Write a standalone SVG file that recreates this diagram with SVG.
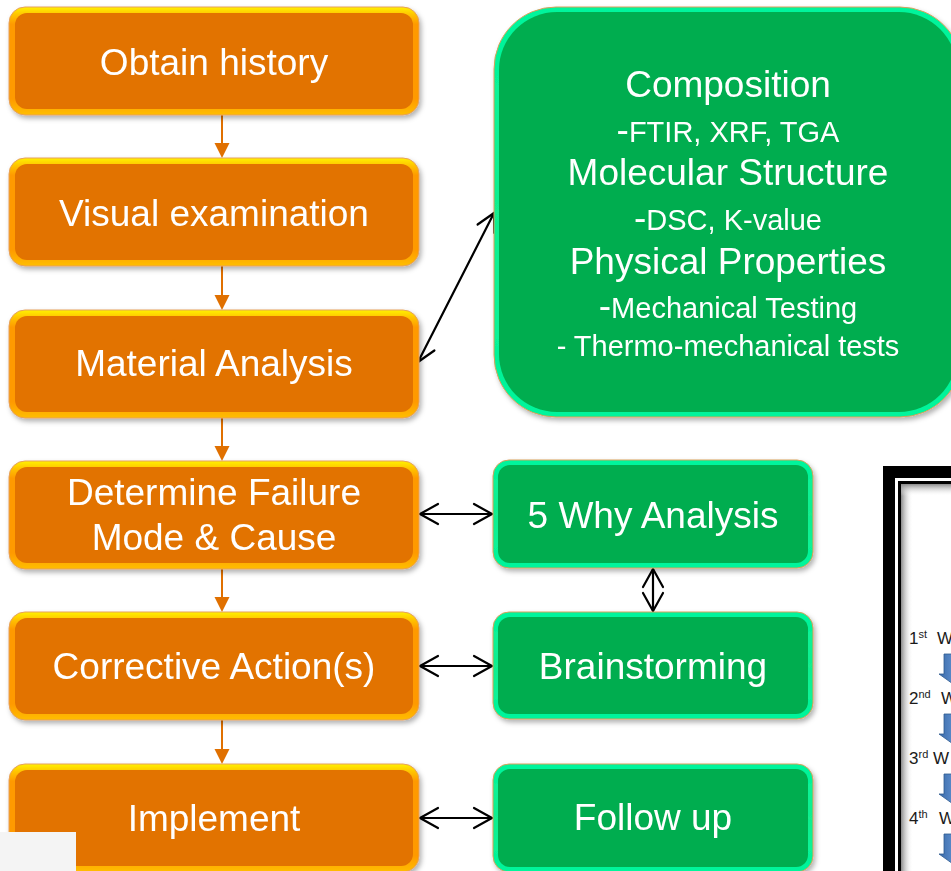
<svg xmlns="http://www.w3.org/2000/svg" width="951" height="871" viewBox="0 0 951 871">
<defs>
<linearGradient id="ringO" x1="0" y1="0" x2="0" y2="1">
<stop offset="0" stop-color="#FFF200"/>
<stop offset="0.07" stop-color="#FFC400"/>
<stop offset="0.16" stop-color="#FF9A00"/>
<stop offset="0.85" stop-color="#FF9A00"/>
<stop offset="1" stop-color="#FFBE00"/>
</linearGradient>
<linearGradient id="ringG" x1="0" y1="0" x2="0" y2="1">
<stop offset="0" stop-color="#00F59C"/>
<stop offset="0.5" stop-color="#12EE8E"/>
<stop offset="1" stop-color="#00F59C"/>
</linearGradient>
<linearGradient id="blueA" x1="0" y1="0" x2="1" y2="0">
<stop offset="0" stop-color="#3A6AA8"/>
<stop offset="0.5" stop-color="#5B8CCB"/>
<stop offset="1" stop-color="#3A6AA8"/>
</linearGradient>
<linearGradient id="shL" x1="0" y1="0" x2="1" y2="0">
<stop offset="0" stop-color="#8A8A8A"/>
<stop offset="1" stop-color="#FFFFFF" stop-opacity="0"/>
</linearGradient>
<linearGradient id="shT" x1="0" y1="0" x2="0" y2="1">
<stop offset="0" stop-color="#8A8A8A"/>
<stop offset="1" stop-color="#FFFFFF" stop-opacity="0"/>
</linearGradient>
<filter id="sh" x="-10%" y="-10%" width="120%" height="130%">
<feDropShadow dx="2" dy="3" stdDeviation="2.5" flood-color="#000" flood-opacity="0.3"/>
</filter>
</defs>
<style>
.oo{fill:url(#ringO);stroke:#E6A05C;stroke-width:1}
.oi{fill:#E27300}
.go{fill:url(#ringG);stroke:#D9A05A;stroke-width:1}
.gi{fill:#00AD4F}
.t{font-family:"Liberation Sans",Arial,sans-serif;fill:#FFFFFF;text-anchor:middle;font-size:37px}
.s{font-size:29px}
.oc{stroke:#E07000;stroke-width:2;fill:none}
.oh{fill:#E07000}
.bc{stroke:#000;stroke-width:2.2;fill:none;stroke-linecap:round;stroke-linejoin:round}
.w{font-family:"Liberation Sans",Arial,sans-serif;fill:#1A1A1A;font-size:17px}
.sup{font-size:11px}
</style>

<g id="connectors">
<line class="oc" x1="222" y1="115" x2="222" y2="144"/>
<polygon class="oh" points="214.5,143 229.5,143 222,158"/>
<line class="oc" x1="222" y1="266" x2="222" y2="296"/>
<polygon class="oh" points="214.5,295 229.5,295 222,310"/>
<line class="oc" x1="222" y1="418" x2="222" y2="447"/>
<polygon class="oh" points="214.5,446 229.5,446 222,461"/>
<line class="oc" x1="222" y1="569" x2="222" y2="598"/>
<polygon class="oh" points="214.5,597 229.5,597 222,612"/>
<line class="oc" x1="222" y1="720" x2="222" y2="750"/>
<polygon class="oh" points="214.5,749 229.5,749 222,764"/>

<line class="bc" x1="418" y1="362" x2="494" y2="213"/>
<polyline class="bc" points="477.6,224.5 494,213 494.3,233"/>
<polyline class="bc" points="434.4,350.5 418,362 417.7,342"/>

<line class="bc" x1="420" y1="514" x2="492" y2="514"/>
<polyline class="bc" points="438,504 420,514 438,524"/>
<polyline class="bc" points="474,504 492,514 474,524"/>

<line class="bc" x1="420" y1="666" x2="492" y2="666"/>
<polyline class="bc" points="438,656 420,666 438,676"/>
<polyline class="bc" points="474,656 492,666 474,676"/>

<line class="bc" x1="420" y1="818" x2="492" y2="818"/>
<polyline class="bc" points="438,808 420,818 438,828"/>
<polyline class="bc" points="474,808 492,818 474,828"/>

<line class="bc" x1="653" y1="569" x2="653" y2="611"/>
<polyline class="bc" points="643,587 653,569 663,587"/>
<polyline class="bc" points="643,593 653,611 663,593"/>
</g>

<g id="n-obtain" filter="url(#sh)">
<rect class="oo" x="9" y="7" width="410" height="108" rx="16"/>
<rect class="oi" x="15" y="13" width="398" height="96" rx="12"/>
<text class="t" x="214" y="75">Obtain history</text>
</g>
<g id="n-visual" filter="url(#sh)">
<rect class="oo" x="9" y="158" width="410" height="108" rx="16"/>
<rect class="oi" x="15" y="164" width="398" height="96" rx="12"/>
<text class="t" x="214" y="226">Visual examination</text>
</g>
<g id="n-material" filter="url(#sh)">
<rect class="oo" x="9" y="310" width="410" height="108" rx="16"/>
<rect class="oi" x="15" y="316" width="398" height="96" rx="12"/>
<text class="t" x="214" y="376">Material Analysis</text>
</g>
<g id="n-determine" filter="url(#sh)">
<rect class="oo" x="9" y="461" width="410" height="108" rx="16"/>
<rect class="oi" x="15" y="467" width="398" height="96" rx="12"/>
<text class="t" x="214" y="505">Determine Failure</text>
<text class="t" x="214" y="550">Mode &amp; Cause</text>
</g>
<g id="n-corrective" filter="url(#sh)">
<rect class="oo" x="9" y="612" width="410" height="108" rx="16"/>
<rect class="oi" x="15" y="618" width="398" height="96" rx="12"/>
<text class="t" x="214" y="679">Corrective Action(s)</text>
</g>
<g id="n-implement" filter="url(#sh)">
<rect class="oo" x="9" y="764" width="410" height="108" rx="16"/>
<rect class="oi" x="15" y="770" width="398" height="96" rx="12"/>
<text class="t" x="214" y="831">Implement</text>
</g>

<g id="n-analysis" filter="url(#sh)">
<rect class="go" x="494" y="7" width="468" height="410" rx="62"/>
<rect class="gi" x="499" y="12" width="458" height="400" rx="58"/>
<text class="t" x="728" y="97">Composition</text>
<text class="t" x="728" y="142">-<tspan class="s">FTIR, XRF, TGA</tspan></text>
<text class="t" x="728" y="185">Molecular Structure</text>
<text class="t" x="728" y="230">-<tspan class="s">DSC, K-value</tspan></text>
<text class="t" x="728" y="274">Physical Properties</text>
<text class="t" x="728" y="318">-<tspan class="s">Mechanical Testing</tspan></text>
<text class="t s" x="728" y="356">- Thermo-mechanical tests</text>
</g>

<g id="n-5why" filter="url(#sh)">
<rect class="go" x="493" y="460" width="320" height="108" rx="16"/>
<rect class="gi" x="498" y="465" width="310" height="98" rx="12"/>
<text class="t" x="653" y="528">5 Why Analysis</text>
</g>
<g id="n-brainstorming" filter="url(#sh)">
<rect class="go" x="493" y="612" width="320" height="107" rx="16"/>
<rect class="gi" x="498" y="617" width="310" height="97" rx="12"/>
<text class="t" x="653" y="679">Brainstorming</text>
</g>
<g id="n-followup" filter="url(#sh)">
<rect class="go" x="493" y="764" width="320" height="108" rx="16"/>
<rect class="gi" x="498" y="769" width="310" height="98" rx="12"/>
<text class="t" x="653" y="830">Follow up</text>
</g>

<rect x="0" y="832" width="76" height="39" fill="#F4F4F4"/>

<g id="five-why-picture">
<rect x="883" y="466" width="100" height="420" fill="#000"/>
<rect x="895" y="478" width="100" height="420" fill="#FFF"/>
<rect x="898" y="481" width="100" height="420" fill="#000"/>
<rect x="901" y="484" width="100" height="420" fill="#FFF"/>
<rect x="901" y="484" width="12" height="400" fill="url(#shL)"/>
<rect x="901" y="484" width="60" height="12" fill="url(#shT)"/>
<text class="w" x="909" y="644">1<tspan class="sup" dy="-6">st</tspan></text>
<text class="w" x="937" y="644">W</text>
<text class="w" x="909" y="704">2<tspan class="sup" dy="-6">nd</tspan></text>
<text class="w" x="941" y="704">W</text>
<text class="w" x="909" y="764">3<tspan class="sup" dy="-6">rd</tspan></text>
<text class="w" x="933" y="764">W</text>
<text class="w" x="909" y="824">4<tspan class="sup" dy="-6">th</tspan></text>
<text class="w" x="939" y="824">W</text>
<path d="M944,654 H962 V674 H967 L953,684 L939,674 H944 Z" fill="url(#blueA)" stroke="#2F5A8F" stroke-width="0.8"/>
<path d="M944,714 H962 V734 H967 L953,744 L939,734 H944 Z" fill="url(#blueA)" stroke="#2F5A8F" stroke-width="0.8"/>
<path d="M944,774 H962 V794 H967 L953,804 L939,794 H944 Z" fill="url(#blueA)" stroke="#2F5A8F" stroke-width="0.8"/>
<path d="M944,834 H962 V854 H967 L953,864 L939,854 H944 Z" fill="url(#blueA)" stroke="#2F5A8F" stroke-width="0.8"/>
</g>
</svg>
